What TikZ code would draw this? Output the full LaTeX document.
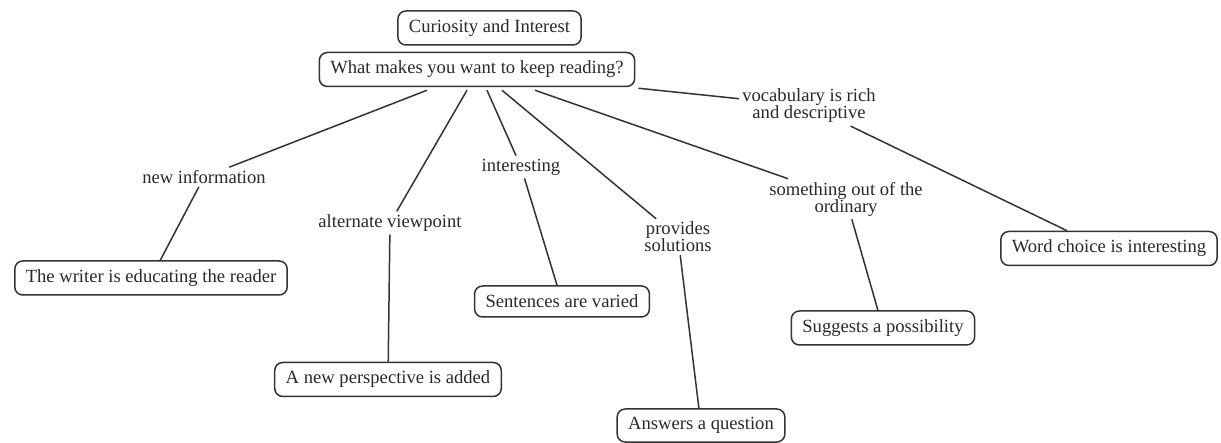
\documentclass[tikz,border=0pt]{standalone}
\usepackage{fontspec}
\setmainfont{Liberation Serif}
\definecolor{linegray}{HTML}{333333}
\definecolor{textgray}{HTML}{2A2A2A}
\begin{document}
\begin{tikzpicture}[x=1pt,y=-1pt,
  box/.style={draw=linegray, line width=1.5pt, rounded corners=8pt, inner xsep=11pt, inner ysep=2pt, minimum height=34pt, text=textgray, font=\fontsize{18.6}{17}\selectfont},
  lbl/.style={inner sep=3pt, align=center, text=textgray, font=\fontsize{18.6}{17}\selectfont},
  conn/.style={draw=linegray, line width=1.5pt}]
\useasboundingbox[fill=white] (0,0) rectangle (1221,443);

% boxes
\node[box] (curio) at (489.5,28) {Curiosity and Interest};
\node[box] (main) at (477,69.5) {What makes you want to keep reading?};
\node[box] (writer) at (151,278) {The writer is educating the reader};
\node[box] (persp) at (388,379.5) {A new perspective is added};
\node[box, minimum height=31pt] (sent) at (562,301.5) {Sentences are varied};
\node[box, minimum height=33pt] (answers) at (701,425.5) {Answers a question};
\node[box] (suggests) at (883,328) {Suggests a possibility};
\node[box] (wordch) at (1109,248.5) {Word choice is interesting};

% labels
\node[lbl] (newinfo) at (204,177) {new information};
\node[lbl] (altview) at (390,223) {alternate viewpoint};
\node[lbl] (interest) at (521,167) {interesting};
\node[lbl] (provides) at (678,237) {provides\\solutions};
\node[lbl] (something) at (846,199) {something out of the\\ordinary};
\node[lbl] (vocab) at (809,106) {vocabulary is rich\\and descriptive};

% connectors
\draw[conn] ([xshift=-50pt,yshift=-3pt]main.south) -- (newinfo);
\draw[conn] (newinfo) -- (writer);
\draw[conn] ([xshift=-10pt,yshift=-3pt]main.south) -- (altview);
\draw[conn] (altview) -- (persp);
\draw[conn] ([xshift=10pt,yshift=-3pt]main.south) -- (interest);
\draw[conn] (interest) -- (sent);
\draw[conn] ([xshift=25pt,yshift=-3pt]main.south) -- (provides);
\draw[conn] (provides) -- (answers);
\draw[conn] ([xshift=58pt,yshift=-3pt]main.south) -- (something);
\draw[conn] (something) -- (suggests);
\draw[conn] ([xshift=3pt,yshift=-1pt]main.south east) -- (vocab);
\draw[conn] (vocab) -- ([xshift=-42pt]wordch.north);
\end{tikzpicture}
\end{document}
